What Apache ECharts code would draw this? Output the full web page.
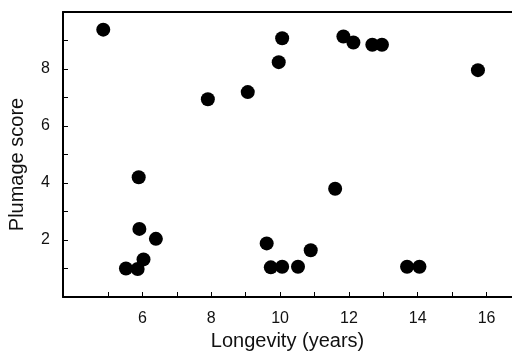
<!DOCTYPE html>
<html>
<head>
<meta charset="utf-8">
<script src="https://cdn.jsdelivr.net/npm/echarts@6/dist/echarts.min.js"></script>
<style>
  html, body { margin: 0; padding: 0; background: #fff; }
  #main { width: 512px; height: 354px; }
</style>
</head>
<body>
<div id="main"></div>
<script>
    // longevity (years) vs plumage score
    var longevity = [4.86, 7.90, 9.06, 5.89, 10.06, 9.96, 11.84, 12.13, 12.68, 12.96, 15.75,
        5.91, 6.39, 6.03, 5.52, 5.86, 11.60, 9.61, 9.73, 10.06, 10.52, 10.89, 13.69, 14.05];
    var plumage = [9.38, 6.94, 7.19, 4.2, 9.08, 8.24, 9.14, 8.93, 8.85, 8.85, 7.96,
        2.39, 2.04, 1.32, 1.0, 0.98, 3.80, 1.88, 1.04, 1.06, 1.06, 1.64, 1.06, 1.06];
    var xTicks = [5, 6, 7, 8, 9, 10, 11, 12, 13, 14, 15, 16];
    var xLabels = [6, 8, 10, 12, 14, 16];
    var yTicks = [1, 2, 3, 4, 5, 6, 7, 8, 9];
    var yLabels = [2, 4, 6, 8];

    var points = longevity.map(function(x, i) {
        return [x, plumage[i]];
    });

    var font = 'Liberation Sans, Arial, Helvetica, sans-serif';
    var chart = echarts.init(document.getElementById('main'));

    chart.setOption({
        backgroundColor: '#fff',
        animation: false,
        grid: {
            left: 63,
            top: 12,
            right: 0,
            bottom: 57,
            outerBoundsMode: 'none'
        },
        xAxis: [{
            type: 'value',
            min: 3.69,
            max: 16.74,
            name: 'Longevity (years)',
            nameLocation: 'middle',
            nameGap: 32,
            nameTextStyle: {
                color: '#111',
                fontSize: 20,
                fontFamily: font
            },
            axisLine: { lineStyle: { color: '#000', width: 2 } },
            axisTick: {
                inside: true,
                length: 5,
                customValues: xTicks,
                lineStyle: { color: '#000', width: 1 }
            },
            axisLabel: {
                customValues: xLabels,
                margin: 14,
                color: '#111',
                fontSize: 16,
                fontFamily: font
            },
            splitLine: { show: false }
        }, {
            type: 'value',
            position: 'top',
            min: 3.69,
            max: 16.74,
            axisLine: { show: true, lineStyle: { color: '#000', width: 2 } },
            axisTick: { show: false },
            axisLabel: { show: false },
            splitLine: { show: false }
        }],
        yAxis: {
            type: 'value',
            min: 0,
            max: 10,
            name: 'Plumage score',
            nameLocation: 'middle',
            nameGap: 36,
            nameTextStyle: {
                color: '#111',
                fontSize: 20,
                fontFamily: font,
                padding: [0, 20, 0, 0]
            },
            axisLine: { show: true, lineStyle: { color: '#000', width: 2 } },
            axisTick: {
                show: true,
                inside: true,
                length: 5,
                customValues: yTicks,
                lineStyle: { color: '#000', width: 1 }
            },
            axisLabel: {
                customValues: yLabels,
                margin: 13,
                color: '#111',
                fontSize: 16,
                fontFamily: font
            },
            splitLine: { show: false }
        },
        series: [{
            type: 'scatter',
            data: points,
            symbol: 'circle',
            symbolSize: 14,
            itemStyle: { color: '#000', opacity: 1 }
        }]
    });
</script>
</body>
</html>
